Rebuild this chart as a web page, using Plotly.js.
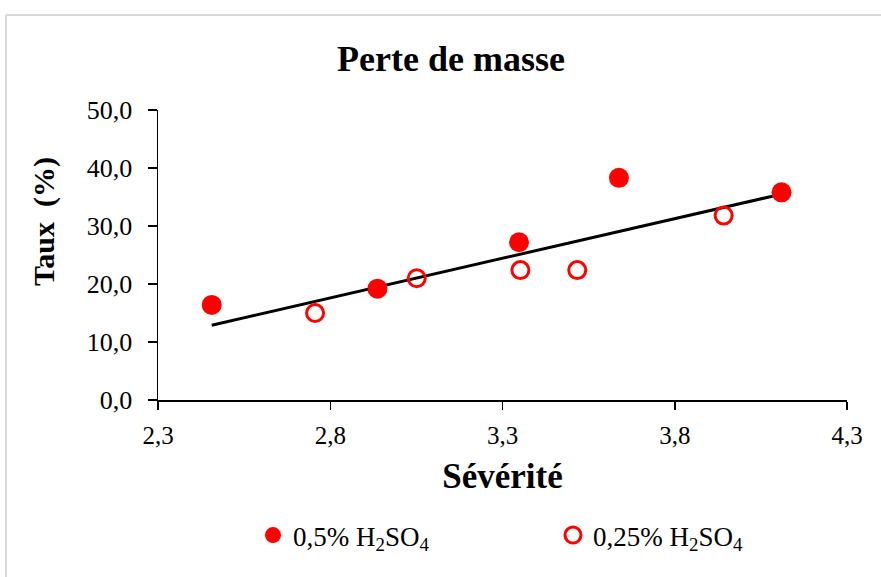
<!DOCTYPE html>
<html>
<head>
<meta charset="utf-8">
<script src="https://cdn.plot.ly/plotly-3.0.1.min.js"></script>
<style>
html,body{margin:0;padding:0;background:#fff;}
#chart{width:881px;height:577px;}
</style>
</head>
<body>
<div id="chart"></div>
<script>
// Data
const severite05 = [2.456, 2.937, 3.348, 3.638, 4.110];
const taux05 = [16.4, 19.2, 27.2, 38.3, 35.8];
const severite025 = [2.756, 3.051, 3.352, 3.517, 3.942];
const taux025 = [15.0, 21.0, 22.4, 22.4, 31.8];
const trendX = [2.456, 4.110];
const trendY = [12.9, 35.5];
const xTicks = [2.3, 2.8, 3.3, 3.8, 4.3];
const yTicks = [0, 10, 20, 30, 40, 50];
const name05 = "0,5% H<sub>2</sub>SO<sub>4</sub>";
const name025 = "0,25% H<sub>2</sub>SO<sub>4</sub>";

const serif = "'Liberation Serif', 'Times New Roman', serif";

const traces = [
  {
    x: trendX, y: trendY, mode: "lines", type: "scatter",
    line: {color: "#000", width: 3}, showlegend: false, hoverinfo: "skip"
  },
  {
    x: severite05, y: taux05, mode: "markers", type: "scatter", name: name05,
    marker: {symbol: "circle", size: 20, color: "#ff0000", line: {width: 0}}
  },
  {
    x: severite025, y: taux025, mode: "markers", type: "scatter", name: name025,
    marker: {symbol: "circle-open", size: 17, color: "#ff0000", line: {width: 3, color: "#ff0000"}}
  }
];

const layout = {
  width: 881, height: 577,
  margin: {l: 158, r: 34, t: 110, b: 177},
  paper_bgcolor: "#fff", plot_bgcolor: "#fff",
  separators: ", ",
  font: {family: serif, color: "#000", size: 24},
  title: {
    text: "<b>Perte de masse</b>",
    font: {family: serif, size: 36, color: "#000"},
    x: 0.512, xref: "container", xanchor: "center",
    y: 1 - 58/577, yref: "container", yanchor: "middle"
  },
  xaxis: {
    range: [2.3, 4.3], tickvals: xTicks, tickformat: ".1f",
    showgrid: false, zeroline: false,
    showline: true, linecolor: "#000", linewidth: 1.5,
    ticks: "outside", ticklen: 8, tickwidth: 1.5, tickcolor: "#000",
    ticklabelstandoff: 4,
    tickfont: {family: serif, size: 25, color: "#000"},
    title: {text: "<b>Sévérité</b>", font: {family: serif, size: 35, color: "#000"}, standoff: 16}
  },
  yaxis: {
    range: [0, 50], tickvals: yTicks, tickformat: ".1f",
    showgrid: false, zeroline: false,
    showline: true, linecolor: "#000", linewidth: 1.5,
    ticks: "outside", ticklen: 9, tickwidth: 1.5, tickcolor: "#000",
    ticklabelstandoff: 10,
    tickfont: {family: serif, size: 26, color: "#000"}
  },
  annotations: [
    {text: "<b>Taux  (%)</b>", textangle: -90, showarrow: false,
     xref: "paper", yref: "paper", x: (44-158)/689, y: (400-222)/290,
     xanchor: "center", yanchor: "middle",
     font: {family: serif, size: 30, color: "#000"}}
  ],
  legend: {
    orientation: "h", xref: "container", yref: "container",
    x: 253/881, xanchor: "left", y: 1 - 511/577, yanchor: "top",
    entrywidth: 255, entrywidthmode: "pixels",
    font: {family: serif, size: 27, color: "#000"},
    bgcolor: "rgba(0,0,0,0)"
  },
  shapes: [
    {type: "line", xref: "paper", yref: "paper", x0: (6-158)/689, x1: (6-158)/689, y0: (400-15)/290, y1: (400-580)/290,
     line: {color: "#d9d9d9", width: 2}},
    {type: "line", xref: "paper", yref: "paper", x0: (6-158)/689, x1: (885-158)/689, y0: (400-15)/290, y1: (400-15)/290,
     line: {color: "#d9d9d9", width: 2}}
  ]
};

Plotly.newPlot("chart", traces, layout, {displayModeBar: false, staticPlot: true});
</script>
</body>
</html>
